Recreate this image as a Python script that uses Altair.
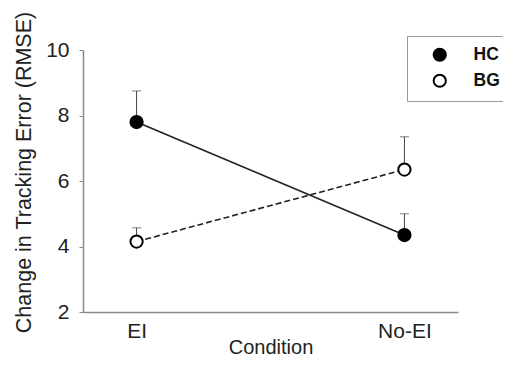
import altair as alt
import pandas as pd

conditions = ["EI", "No-EI"]
groups = ["HC", "BG"]
hc_mean = [7.8, 4.35]
hc_se = [0.95, 0.65]
bg_mean = [4.15, 6.35]
bg_se = [0.42, 1.0]

rows = []
for g, means, ses in [("HC", hc_mean, hc_se), ("BG", bg_mean, bg_se)]:
    for c, m, s in zip(conditions, means, ses):
        rows.append({"Condition": c, "Group": g, "Mean": m, "Upper": m + s})
df = pd.DataFrame(rows)

FONT = "Liberation Sans"
AX = "#8a8a8a"

x_enc = alt.X("Condition:N", sort=conditions,
              scale=alt.Scale(type="point", padding=0.2),
              axis=alt.Axis(title="Condition", labelAngle=0, ticks=False,
                            labelFontSize=21, labelPadding=8, labelColor="#222",
                            titleFontSize=20, titleFontWeight="normal", titleColor="#222",
                            titleY=41, titleBaseline="alphabetic",
                            domainColor=AX, domainWidth=1.5,
                            labelFont=FONT, titleFont=FONT))
y_scale = alt.Scale(domain=[2, 10], nice=False, zero=False)

base = alt.Chart(df)

err = base.mark_rule(color="#444", strokeWidth=1).encode(
    x=x_enc,
    y=alt.Y("Mean:Q", scale=y_scale),
    y2="Upper:Q",
)
caps = base.mark_tick(color="#444", thickness=1, size=9, orient="horizontal").encode(
    x=x_enc,
    y=alt.Y("Upper:Q", scale=y_scale),
)
line_hc = base.transform_filter(alt.datum.Group == "HC").mark_line(color="#222", strokeWidth=1.6).encode(
    x=x_enc,
    y=alt.Y("Mean:Q", scale=y_scale),
)
line_bg = base.transform_filter(alt.datum.Group == "BG").mark_line(color="#222", strokeWidth=1.6, strokeDash=[6, 3]).encode(
    x=x_enc,
    y=alt.Y("Mean:Q", scale=y_scale),
)
points = base.mark_point(filled=True, size=150, stroke="black", strokeWidth=2, opacity=1, shape="circle").encode(
    x=x_enc,
    y=alt.Y("Mean:Q", scale=y_scale,
            axis=alt.Axis(title="Change in Tracking Error (RMSE)", values=[2, 4, 6, 8, 10],
                          grid=False, tickSize=4, tickColor=AX, domainColor=AX, domainWidth=1.5,
                          labelFontSize=21, labelPadding=10, labelColor="#222",
                          titleFontSize=21.5, titleFontWeight="normal", titleColor="#222",
                          titleX=-53, titleY=122, titleBaseline="alphabetic", titleAngle=270,
                          labelFont=FONT, titleFont=FONT)),
    fill=alt.Fill("Group:N", scale=alt.Scale(domain=groups, range=["black", "white"]),
                  legend=alt.Legend(title=None, orient="none", legendX=324, legendY=-14,
                                    strokeColor="#999", padding=10, symbolOffset=14,
                                    symbolType="circle", symbolSize=150, symbolStrokeColor="black",
                                    symbolStrokeWidth=2, labelFont=FONT, labelFontSize=17.5,
                                    labelFontWeight="bold", labelColor="#111", labelOffset=25,
                                    rowPadding=5)),
)

chart = alt.layer(err, caps, line_hc, line_bg, points).properties(
    width=375, height=262,
    background="white",
    padding={"left": 75, "top": 42, "right": 45, "bottom": 45},
    autosize=alt.AutoSizeParams(type="none"),
).configure_view(stroke=None)

chart.save("out.html", embed_options={"renderer": "svg", "actions": False})
